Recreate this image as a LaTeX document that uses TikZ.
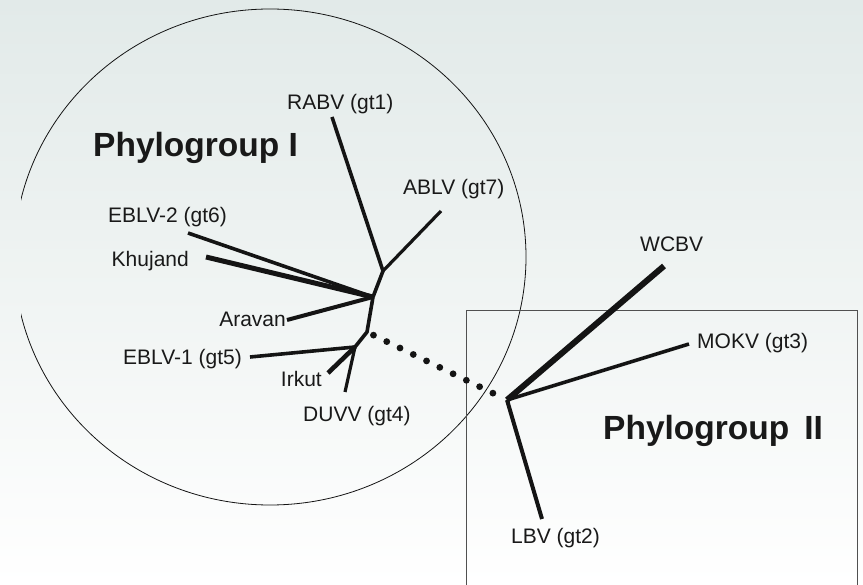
\documentclass[tikz,border=0pt]{standalone}
\usepackage{fontspec}
\setmainfont{Liberation Sans}
\usetikzlibrary{calc}
\definecolor{bgL}{RGB}{226,234,233}
\definecolor{bgM}{RGB}{240,244,243}
\definecolor{ink}{RGB}{20,20,20}
\definecolor{txt}{RGB}{25,25,25}
\definecolor{framec}{RGB}{80,80,80}
\tikzset{
  branch/.style={draw=ink, line width=#1, line cap=butt, line join=round},
  branch/.default=3.6pt,
  lab/.style={inner sep=0pt, font=\fontsize{21}{21}\selectfont, text=txt},
  grp/.style={inner sep=0pt, font=\fontsize{33.5}{34}\selectfont\bfseries, text=txt},
  dotmark/.style={fill=ink}
}
\begin{document}
\begin{tikzpicture}[x=1pt,y=-1pt]
\useasboundingbox (0,0) rectangle (863,585);
\shade[left color=bgL, right color=white, middle color=bgM, shading angle=0] (0,0) rectangle (863,585);
\shade[top color=bgL, bottom color=white, opacity=0.3] (0,0) rectangle (863,585);

% Phylogroup I ellipse (clipped at left edge)
\begin{scope}
  \clip (21,0) rectangle (863,585);
  \draw[ink, line width=0.8pt] (270,257) ellipse [x radius=256, y radius=248];
\end{scope}

% Phylogroup II frame
\draw[framec, line width=1pt] (466,590) -- (466,311) -- (857,311) -- (857,590);

% tree coordinates
\coordinate (A) at (383,271);
\coordinate (B) at (373,297);
\coordinate (C) at (367,332);
\coordinate (D) at (355,347);
\coordinate (E) at (507,400);
\coordinate (tRABV) at (332,117);
\coordinate (tABLV) at (441,211);
\coordinate (tEBLVii) at (188,233);
\coordinate (tKhu) at (206,257);
\coordinate (tAra) at (287,320);
\coordinate (tEBLVi) at (250,357);
\coordinate (tIrk) at (328,373);
\coordinate (tDUVV) at (345,392);
\coordinate (tWCBV) at (664,266);
\coordinate (tMOKV) at (689,344);
\coordinate (tLBV) at (542,519);

% branches
\draw[branch=3.6pt] (tRABV) -- (A) -- (B) -- (C) -- (D);
\draw[branch=3.2pt] (tABLV) -- (A);
\draw[branch=3.6pt] (tEBLVii) -- (B);
\draw[branch=5pt] (tKhu) -- (B);
\draw[branch=4pt] (tAra) -- (B);
\draw[branch=3.6pt] (tEBLVi) -- (D);
\draw[branch=4.6pt] (tIrk) -- (D);
\draw[branch=3.2pt] (tDUVV) -- (D);
\draw[branch=6pt] (tWCBV) -- (E);
\draw[branch=3.6pt] (tMOKV) -- (E);
\draw[branch=4pt] (tLBV) -- (E);

% dotted link between groups
\foreach \i in {0,...,9} {
  \pgfmathsetmacro\dd{7.2+\i*14.75}
  \fill[dotmark] ($(C)!\dd pt!(E)$) circle (3.4pt);
}

% labels
\node[lab, anchor=base west] (lRABV) at (287,110) {RABV (gt1)};
\node[lab, anchor=base west] (lABLV) at (403,195) {ABLV (gt7)};
\node[lab, anchor=base east] (lEBLVii) at (227,223) {EBLV-2 (gt6)};
\node[lab, anchor=base east] (lKhu) at (189,267) {Khujand};
\node[lab, anchor=base east] (lAra) at (286,327) {Aravan};
\node[lab, anchor=base east] (lEBLVi) at (242,365) {EBLV-1 (gt5)};
\node[lab, anchor=base east] (lIrk) at (322,387) {Irkut};
\node[lab, anchor=base west] (lDUVV) at (303,422) {DUVV (gt4)};
\node[lab, anchor=base west] (lWCBV) at (640,252) {WCBV};
\node[lab, anchor=base west] (lMOKV) at (697,349) {MOKV (gt3)};
\node[lab, anchor=base west] (lLBV) at (511,543) {LBV (gt2)};

\node[grp, anchor=base west] (gI) at (93,157) {Phylogroup I};
\node[grp, anchor=base west] (gII) at (603,440) {Phylogroup\hspace{0.45em}II};
\end{tikzpicture}
\end{document}
